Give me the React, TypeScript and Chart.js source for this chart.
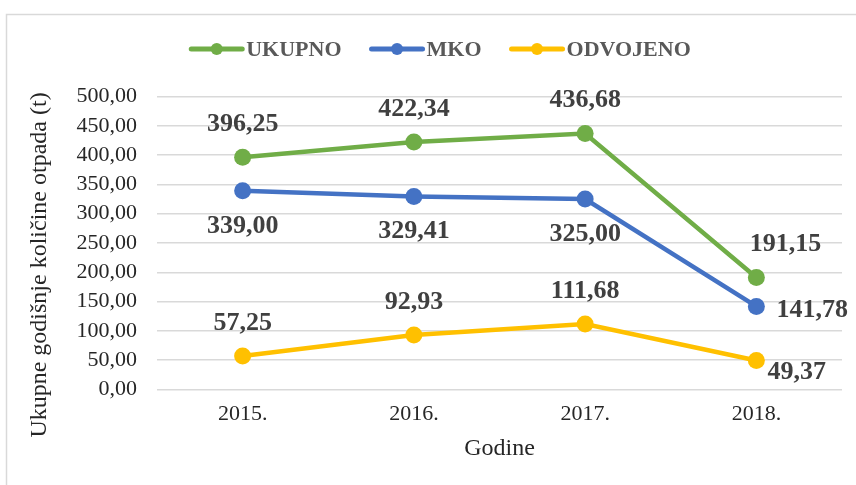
import React, { useEffect, useRef } from 'react';
import { Chart, registerables } from 'chart.js';

Chart.register(...registerables);

const categories = ['2015.', '2016.', '2017.', '2018.'];
const ukupno = [396.25, 422.34, 436.68, 191.15];
const mko = [339.0, 329.41, 325.0, 141.78];
const odvojeno = [57.25, 92.93, 111.68, 49.37];
const seriesNames = ['UKUPNO', 'MKO', 'ODVOJENO'];
const seriesColors = ['#70AD47', '#4472C4', '#FFC000'];
const labelPositions = [
  ['above', 'above', 'above', 'aboveRight'],
  ['below', 'below', 'below', 'right'],
  ['above', 'above', 'above', 'belowRight'],
];
const yTitle = 'Ukupne godišnje količine otpada (t)';
const xTitle = 'Godine';
const yMin = 0;
const yMax = 500;
const yStep = 50;

const SERIF = '"Liberation Serif", "Times New Roman", serif';
const fmt = (v: number) => v.toFixed(2).replace('.', ',');

const decoPlugin = {
  id: 'deco',
  beforeDraw(chart: any) {
    const ctx = chart.ctx;
    ctx.save();
    ctx.fillStyle = '#ffffff';
    ctx.fillRect(0, 0, chart.width, chart.height);
    ctx.strokeStyle = '#D9D9D9';
    ctx.lineWidth = 1.5;
    ctx.strokeRect(6.5, 14.5, chart.width + 40, chart.height + 40);
    ctx.restore();
  },
  afterDraw(chart: any) {
    const ctx = chart.ctx;
    // Y axis title
    ctx.save();
    ctx.translate(40, 265);
    ctx.rotate(-Math.PI / 2);
    ctx.font = `24px ${SERIF}`;
    ctx.fillStyle = '#262626';
    ctx.textAlign = 'center';
    ctx.textBaseline = 'middle';
    ctx.fillText(yTitle, 0, 0);
    ctx.restore();

    // Legend
    ctx.save();
    ctx.font = `bold 22px ${SERIF}`;
    const lineLen = 55;
    const gapText = 2;
    const gapItem = 28;
    const widths = seriesNames.map((n) => ctx.measureText(n).width);
    const total = widths.reduce((a, w) => a + lineLen + gapText + w, 0) + gapItem * (seriesNames.length - 1);
    let lx = 440 - total / 2;
    const ly = 49;
    seriesNames.forEach((name, i) => {
      ctx.strokeStyle = seriesColors[i];
      ctx.lineWidth = 5;
      ctx.lineCap = 'round';
      ctx.beginPath();
      ctx.moveTo(lx + 2, ly);
      ctx.lineTo(lx + lineLen - 2, ly);
      ctx.stroke();
      ctx.fillStyle = seriesColors[i];
      ctx.beginPath();
      ctx.arc(lx + lineLen / 2, ly, 6, 0, Math.PI * 2);
      ctx.fill();
      ctx.fillStyle = '#595959';
      ctx.textAlign = 'left';
      ctx.textBaseline = 'middle';
      ctx.fillText(name, lx + lineLen + gapText, ly + 1);
      lx += lineLen + gapText + widths[i] + gapItem;
    });
    ctx.restore();

    // Data labels
    ctx.save();
    ctx.font = `bold 26px ${SERIF}`;
    ctx.fillStyle = '#404040';
    ctx.textBaseline = 'middle';
    chart.data.datasets.forEach((ds: any, i: number) => {
      const meta = chart.getDatasetMeta(i);
      meta.data.forEach((pt: any, j: number) => {
        const { x, y } = pt.getProps(['x', 'y'], true);
        const text = fmt(ds.data[j]);
        const pos = labelPositions[i][j];
        let tx = x;
        let ty = y;
        ctx.textAlign = 'center';
        if (pos === 'above') ty = y - 33;
        else if (pos === 'below') ty = y + 35;
        else if (pos === 'right') {
          ctx.textAlign = 'left';
          tx = x + 20;
          ty = y + 4;
        } else if (pos === 'aboveRight') {
          tx = x + 29;
          ty = y - 33;
        } else if (pos === 'belowRight') {
          ctx.textAlign = 'left';
          tx = x + 11;
          ty = y + 12;
        }
        ctx.fillText(text, tx, ty);
      });
    });
    ctx.restore();
  },
};

export default function App() {
  const canvasRef = useRef<HTMLCanvasElement | null>(null);

  useEffect(() => {
    document.body.style.margin = '0';
    const canvas = canvasRef.current;
    if (!canvas) return;
    const datasets = [ukupno, mko, odvojeno].map((data, i) => ({
      label: seriesNames[i],
      data,
      borderColor: seriesColors[i],
      backgroundColor: seriesColors[i],
      pointBackgroundColor: seriesColors[i],
      pointBorderColor: seriesColors[i],
      borderWidth: 4.5,
      pointRadius: 8.5,
      pointBorderWidth: 0,
      tension: 0,
    }));
    const chart = new Chart(canvas, {
      type: 'line',
      data: { labels: categories, datasets },
      plugins: [decoPlugin],
      options: {
        animation: false,
        responsive: false,
        layout: { padding: { top: 96.5, left: 0, right: 14, bottom: 0 } },
        plugins: {
          legend: { display: false },
          tooltip: { enabled: false },
        },
        scales: {
          x: {
            type: 'category',
            offset: true,
            grid: { display: false, drawTicks: false },
            border: { display: false },
            ticks: {
              font: { family: SERIF, size: 22 },
              color: '#262626',
              padding: 12,
            },
            title: {
              display: true,
              text: xTitle,
              font: { family: SERIF, size: 24 },
              color: '#262626',
              padding: { top: 0, bottom: 22 },
            },
            afterFit: (s: any) => {
              s.height = 485 - 389.5;
            },
          },
          y: {
            min: yMin,
            max: yMax,
            ticks: {
              stepSize: yStep,
              autoSkip: false,
              callback: (v: any) => fmt(Number(v)),
              font: { family: SERIF, size: 22, lineHeight: 1 },
              color: '#262626',
              padding: 20,
            },
            grid: { color: '#D9D9D9', lineWidth: 1.5, drawTicks: false },
            border: { display: false },
            afterFit: (s: any) => {
              s.width = 157;
            },
          },
        },
      },
    });
    return () => chart.destroy();
  }, []);

  return <canvas ref={canvasRef} width={856} height={485} style={{ display: 'block' }} />;
}
